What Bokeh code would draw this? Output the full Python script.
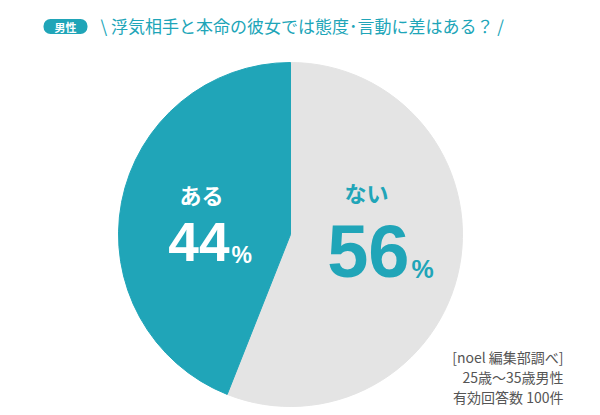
import math
from bokeh.plotting import figure
from bokeh.models import ColumnDataSource
from bokeh.core.properties import value
from bokeh.embed import file_html
from bokeh.resources import INLINE

# ---- data ----
categories = ["ない", "ある"]
percents = [56, 44]
colors = ["#e4e4e4", "#20a5b8"]
title_text = "\\ 浮気相手と本命の彼女では態度･言動に差はある？ /"
badge_text = "男性"
note_lines = ["[noel 編集部調べ]", "25歳〜35歳男性", "有効回答数 100件"]

W, H = 600, 415
JP = "Noto Sans CJK JP"
NUM = "Liberation Sans"
TEAL = "#20a5b8"

def Y(py):
    return H - py

p = figure(width=W, height=H, x_range=(0, W), y_range=(0, H),
           output_backend="svg", toolbar_location=None, min_border=0)
p.axis.visible = False
p.grid.visible = False
p.outline_line_color = None
p.background_fill_color = "white"
p.border_fill_color = "white"

# ---- pie (clockwise from 12 o'clock) ----
cx, cy, r = 290, Y(234), 172
total = sum(percents)
starts, ends = [], []
cur = 90.0
for v in percents:
    sweep = 360.0 * v / total
    ends.append(math.radians(cur))
    starts.append(math.radians(cur - sweep))
    cur -= sweep
src = ColumnDataSource(dict(start=starts, end=ends, color=colors))
p.wedge(x=cx, y=cy, radius=r, radius_units="data", start_angle="start",
        end_angle="end", fill_color="color", line_color="color", line_width=1, source=src)

# ---- labels ----
p.text(x=[366], y=[Y(191)], text=[categories[0]], text_font=value(JP), text_font_style="bold",
       text_font_size="22px", text_color=TEAL, text_align="center", text_baseline="middle")
p.text(x=[201], y=[Y(193)], text=[categories[1]], text_font=value(JP), text_font_style="bold",
       text_font_size="22px", text_color="white", text_align="center", text_baseline="middle")

p.text(x=[409], y=[Y(250)], text=[str(percents[0])], text_font=value(NUM), text_font_style="bold",
       text_font_size="74px", text_color=TEAL, text_align="right", text_baseline="middle")
p.text(x=[411], y=[Y(268)], text=["%"], text_font=value(NUM), text_font_style="bold",
       text_font_size="25px", text_color=TEAL, text_align="left", text_baseline="middle")

p.text(x=[229], y=[Y(241)], text=[str(percents[1])], text_font=value(NUM), text_font_style="bold",
       text_font_size="55px", text_color="white", text_align="right", text_baseline="middle")
p.text(x=[231], y=[Y(254)], text=["%"], text_font=value(NUM), text_font_style="bold",
       text_font_size="23px", text_color="white", text_align="left", text_baseline="middle")

# ---- title ----
p.rect(x=[65], y=[Y(26)], width=44, height=15, fill_color=TEAL, line_color=None,
       border_radius=7)
p.text(x=[65], y=[Y(26)], text=[badge_text], text_font=value(JP), text_font_style="bold",
       text_font_size="11px", text_color="white", text_align="center", text_baseline="middle")
p.text(x=[100], y=[Y(25)], text=[title_text], text_font=value(JP),
       text_font_size="17px", text_color=TEAL, text_align="left", text_baseline="middle")

# ---- note ----
p.text(x=[563] * 3, y=[Y(356), Y(376), Y(396)], text=note_lines, text_font=value(JP),
       text_font_size="14px", text_color="#555555", text_align="right", text_baseline="middle")

open("out.html", "w").write(file_html(p, INLINE))
